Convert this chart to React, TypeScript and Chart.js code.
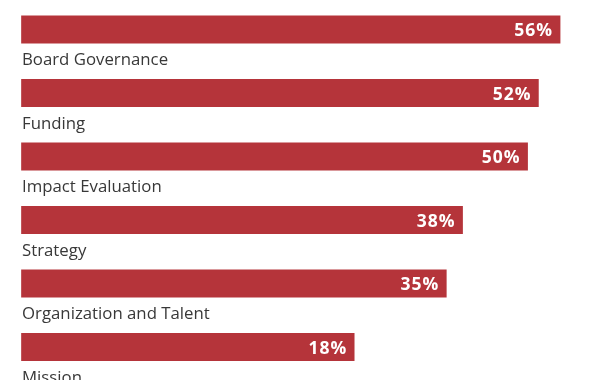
import React, { useEffect, useRef } from "react";
import { Chart, registerables } from "chart.js";

Chart.register(...registerables);

const CATEGORIES = [
  "Board Governance",
  "Funding",
  "Impact Evaluation",
  "Strategy",
  "Organization and Talent",
  "Mission",
];
const VALUES = [56, 52, 50, 38, 35, 18];
const AXIS_MIN = -43.4;
const AXIS_MAX = 58.2;
const BAR_COLOR = "#b5343a";

const labelPlugin = {
  id: "barLabels",
  afterDatasetsDraw(chart: any) {
    const ctx = chart.ctx;
    const meta = chart.getDatasetMeta(0);
    ctx.save();
    meta.data.forEach((bar: any, i: number) => {
      const left = Math.min(bar.base, bar.x);
      ctx.fillStyle = "#383838";
      ctx.font = "400 16.8px 'Open Sans'";
      ctx.textAlign = "left";
      ctx.textBaseline = "alphabetic";
      (ctx as any).letterSpacing = "0px";
      ctx.fillText(CATEGORIES[i], left + 0.5, bar.y + 35.5);
      ctx.fillStyle = "#ffffff";
      ctx.font = "700 17.5px 'Open Sans'";
      (ctx as any).letterSpacing = "1px";
      ctx.textAlign = "right";
      ctx.fillText(VALUES[i] + "%", bar.x - 7, bar.y + 6.5);
    });
    ctx.restore();
  },
};

export default function App() {
  const ref = useRef<HTMLCanvasElement>(null);
  useEffect(() => {
    document.body.style.margin = "0";
    const chart = new Chart(ref.current!, {
      type: "bar",
      data: {
        labels: CATEGORIES,
        datasets: [
          {
            data: VALUES,
            base: AXIS_MIN,
            backgroundColor: BAR_COLOR,
            barThickness: 27.5,
            borderWidth: 0,
            clip: false as any,
          } as any,
        ],
      },
      options: {
        indexAxis: "y",
        animation: false,
        responsive: false,
        layout: { padding: { top: 29.5, bottom: 33, left: 21.5, right: 20 } },
        plugins: { legend: { display: false }, tooltip: { enabled: false } },
        scales: {
          x: { display: false, min: AXIS_MIN, max: AXIS_MAX, grid: { display: false } },
          y: { display: false, offset: false, grid: { display: false } },
        },
      },
      plugins: [labelPlugin],
    });
    return () => chart.destroy();
  }, []);
  return <canvas ref={ref} width={592} height={380} style={{ display: "block" }} />;
}
